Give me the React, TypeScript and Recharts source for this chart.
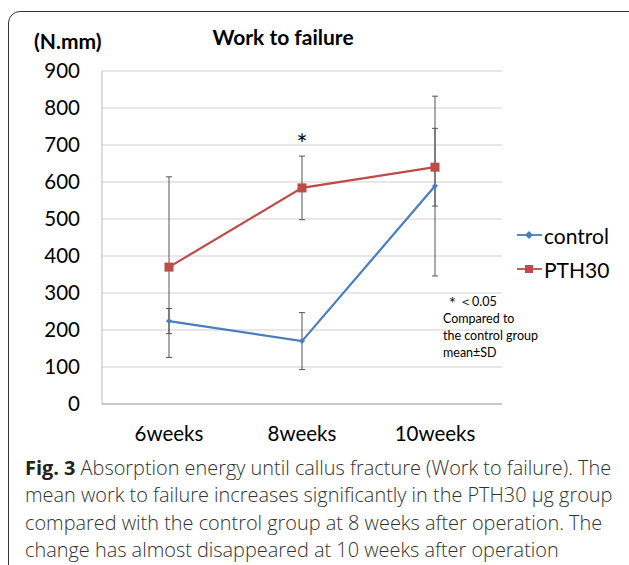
import React from 'react';
import { LineChart, Line, XAxis, YAxis, CartesianGrid, ErrorBar, Legend, ReferenceDot } from 'recharts';

// Values (N.mm), mean ± SD
const categories = ['6weeks', '8weeks', '10weeks'];
const controlMean = [224, 170, 589];
const controlSD = [34, 77, 243];
const pth30Mean = [370, 584, 640];
const pth30SD = [244, 86, 105];
const yTicks = [0, 100, 200, 300, 400, 500, 600, 700, 800, 900];
const significant = ['8weeks'];
const seriesOrder = ['control', 'pth30'];

const CONTROL_COLOR = '#4A7EBB';
const PTH_COLOR = '#BE4B48';
const chartFont = 'Lato, "Open Sans", sans-serif';

const data = categories.map((c, i) => ({
  week: c,
  control: controlMean[i],
  controlSD: controlSD[i],
  pth30: pth30Mean[i],
  pth30SD: pth30SD[i],
}));

const Diamond = ({ cx, cy, fill, r = 5.5 }: any) => {
  if (cx == null || cy == null) return null;
  return <path d={`M${cx},${cy - r}L${cx + r},${cy}L${cx},${cy + r}L${cx - r},${cy}Z`} fill={fill} />;
};

const Square = ({ cx, cy, fill, s = 9 }: any) => {
  if (cx == null || cy == null) return null;
  return <rect x={cx - s / 2} y={cy - s / 2} width={s} height={s} fill={fill} />;
};

const LegendContent: React.FC<any> = ({ payload }) => {
  if (!payload) return null;
  const items = [...payload].sort((a: any, b: any) => seriesOrder.indexOf(a.dataKey) - seriesOrder.indexOf(b.dataKey));
  return (
    <div style={{ fontFamily: chartFont, fontSize: 21, color: '#000' }}>
      {items.map((item: any) => {
        const isControl = item.dataKey === 'control';
        const color = isControl ? CONTROL_COLOR : PTH_COLOR;
        return (
          <div key={item.value} style={{ display: 'flex', alignItems: 'center', height: 34 }}>
            <svg width={25} height={14}>
              <line x1={0} y1={7} x2={25} y2={7} stroke={color} strokeWidth={1.8} />
              {isControl ? <Diamond cx={12} cy={7} fill={color} r={4} /> : <Square cx={12} cy={7} fill={color} s={8} />}
            </svg>
            <span style={{ marginLeft: 2 }}>{item.value}</span>
          </div>
        );
      })}
    </div>
  );
};

const App: React.FC = () => {
  return (
    <div style={{ position: 'absolute', left: 0, top: 0, width: 629, height: 565, overflow: 'hidden', background: '#fff' }}>
      <div
        style={{
          position: 'absolute', left: 8, top: 11, width: 660, height: 600,
          border: '1.5px solid #333', borderRadius: 12,
        }}
      />
      <div style={{ position: 'absolute', left: 34, top: 28, fontFamily: chartFont, fontWeight: 700, fontSize: 21 }}>
        (N.mm)
      </div>
      <div style={{ position: 'absolute', left: 183, width: 200, top: 24, textAlign: 'center', fontFamily: chartFont, fontWeight: 700, fontSize: 21 }}>
        Work to failure
      </div>

      <LineChart
        width={629}
        height={460}
        data={data}
        margin={{ top: 71, right: 127, bottom: 26, left: 42 }}
        style={{ position: 'absolute', left: 0, top: 0 }}
      >
        <CartesianGrid vertical={false} stroke="#cfcfcf" strokeWidth={1} />
        <XAxis
          dataKey="week"
          padding={{ left: 67, right: 67 }}
          tickLine={false}
          tickMargin={16}
          stroke="#aaa"
          height={30}
          tick={{ fill: '#000', fontSize: 20.5, fontFamily: chartFont }}
        />
        <YAxis
          domain={[0, 900]}
          ticks={yTicks}
          width={60}
          tickLine={false}
          tickMargin={16}
          stroke="#bbb"
          tick={{ fill: '#000', fontSize: 20.5, fontFamily: chartFont }}
        />
        <Legend
          layout="vertical"
          align="center"
          verticalAlign="middle"
          content={<LegendContent />}
          wrapperStyle={{ left: 517, top: 218, width: 112 }}
        />
        <Line
          dataKey="control"
          name="control"
          stroke={CONTROL_COLOR}
          strokeWidth={2.2}
          dot={<Diamond fill={CONTROL_COLOR} />}
          activeDot={false}
          isAnimationActive={false}
        >
          <ErrorBar dataKey="controlSD" direction="y" width={3} stroke="#555" strokeWidth={1} isAnimationActive={false} />
        </Line>
        <Line
          dataKey="pth30"
          name="PTH30"
          stroke={PTH_COLOR}
          strokeWidth={2.2}
          dot={<Square fill={PTH_COLOR} />}
          activeDot={false}
          isAnimationActive={false}
        >
          <ErrorBar dataKey="pth30SD" direction="y" width={3} stroke="#555" strokeWidth={1} isAnimationActive={false} />
        </Line>
        {significant.map(w => (
          <ReferenceDot
            key={w}
            x={w}
            y={700}
            r={0}
            label={{ value: '*', position: 'center', fontSize: 26, fill: '#000', fontFamily: chartFont }}
          />
        ))}
      </LineChart>

      <div
        style={{
          position: 'absolute', left: 443, top: 293, fontFamily: chartFont, fontSize: 12.5,
          lineHeight: '17px', color: '#000',
        }}
      >
        <div style={{ marginLeft: 3 }}>＊＜0.05</div>
        <div>Compared to</div>
        <div>the control group</div>
        <div>mean±SD</div>
      </div>

      <div
        style={{
          position: 'absolute', left: 25, top: 454, width: 610, fontFamily: '"Open Sans", sans-serif',
          fontSize: 19.9, fontWeight: 300, lineHeight: '27.4px', color: '#333', whiteSpace: 'nowrap',
        }}
      >
        <b style={{ color: '#222', fontWeight: 700 }}>Fig. 3</b> Absorption energy until callus fracture (Work to failure). The<br />
        mean work to failure increases significantly in the PTH30 μg group<br />
        compared with the control group at 8 weeks after operation. The<br />
        change has almost disappeared at 10 weeks after operation
      </div>
    </div>
  );
};

export default App;
